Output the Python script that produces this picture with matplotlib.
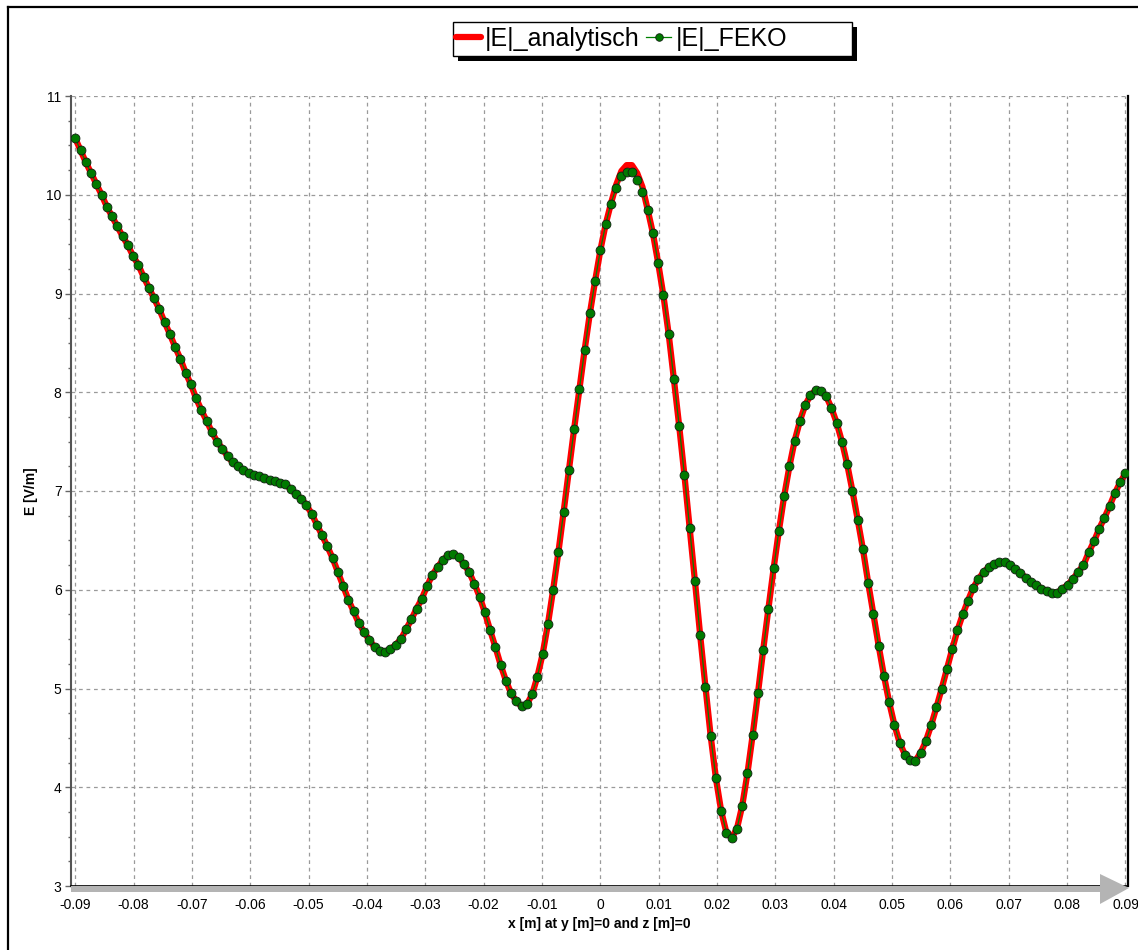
import matplotlib.pyplot as plt
import matplotlib.patches as mpatches
import matplotlib.transforms as mtransforms
from matplotlib.lines import Line2D
import numpy as np

plt.rcParams['font.family'] = ['Liberation Sans', 'DejaVu Sans']

W, H = 1138, 950

# sample positions along x (201 points from -0.09 to 0.09)
x_m = np.linspace(-0.09, 0.09, 201)

e_feko = [
    10.57, 10.45, 10.33, 10.22, 10.11, 10.00, 9.88, 9.78, 9.68, 9.58,
    9.49, 9.38, 9.29, 9.17, 9.06, 8.95, 8.84, 8.71, 8.59, 8.46,
    8.34, 8.20, 8.08, 7.94, 7.82, 7.71, 7.60, 7.50, 7.43, 7.35,
    7.29, 7.25, 7.21, 7.18, 7.16, 7.15, 7.13, 7.11, 7.10, 7.08,
    7.07, 7.02, 6.97, 6.92, 6.86, 6.77, 6.66, 6.55, 6.44, 6.32,
    6.18, 6.04, 5.90, 5.78, 5.66, 5.57, 5.49, 5.42, 5.38, 5.37,
    5.40, 5.44, 5.50, 5.60, 5.70, 5.81, 5.91, 6.04, 6.15, 6.23,
    6.30, 6.35, 6.36, 6.33, 6.26, 6.18, 6.06, 5.93, 5.77, 5.59,
    5.42, 5.24, 5.08, 4.95, 4.87, 4.82, 4.84, 4.94, 5.12, 5.35,
    5.65, 6.00, 6.38, 6.79, 7.21, 7.63, 8.03, 8.43, 8.80, 9.13,
    9.44, 9.70, 9.91, 10.07, 10.19, 10.23, 10.23, 10.15, 10.03, 9.85,
    9.61, 9.31, 8.98, 8.59, 8.13, 7.66, 7.16, 6.63, 6.09, 5.54,
    5.02, 4.52, 4.09, 3.76, 3.54, 3.49, 3.58, 3.81, 4.14, 4.53,
    4.95, 5.39, 5.81, 6.22, 6.60, 6.95, 7.25, 7.51, 7.71, 7.87,
    7.97, 8.02, 8.01, 7.96, 7.84, 7.69, 7.50, 7.27, 7.00, 6.71,
    6.41, 6.07, 5.75, 5.43, 5.13, 4.86, 4.63, 4.45, 4.33, 4.28,
    4.27, 4.35, 4.47, 4.63, 4.81, 5.00, 5.20, 5.40, 5.59, 5.75,
    5.89, 6.02, 6.11, 6.18, 6.23, 6.26, 6.28, 6.28, 6.25, 6.21,
    6.17, 6.12, 6.08, 6.05, 6.01, 5.99, 5.97, 5.97, 6.01, 6.05,
    6.11, 6.18, 6.25, 6.38, 6.49, 6.62, 6.73, 6.85, 6.98, 7.09,
    7.18,
]

# analytic curve sits on the FEKO points except around the main peak
e_analytisch = list(e_feko)
e_analytisch[103:109] = [10.10, 10.24, 10.30, 10.30, 10.22, 10.08]

x_ticks = [-0.09, -0.08, -0.07, -0.06, -0.05, -0.04, -0.03, -0.02, -0.01,
           0.0, 0.01, 0.02, 0.03, 0.04, 0.05, 0.06, 0.07, 0.08, 0.09]
x_tick_labels = ['-0.09', '-0.08', '-0.07', '-0.06', '-0.05', '-0.04', '-0.03',
                 '-0.02', '-0.01', '0', '0.01', '0.02', '0.03', '0.04', '0.05',
                 '0.06', '0.07', '0.08', '0.09']
y_ticks = [3, 4, 5, 6, 7, 8, 9, 10, 11]

fig = plt.figure(figsize=(W / 100, H / 100), dpi=100)
# image pixel coords (origin top-left) -> display
pix = mtransforms.Affine2D().scale(1, -1).translate(0, H)

ax = fig.add_axes([71 / W, 1 - 886 / H, (1128 - 71) / W, (886 - 96) / H])

ax.plot(x_m, e_analytisch, color='#ff0000', lw=4.5, solid_capstyle='round',
        label='|E|_analytisch', zorder=3)
ax.plot(x_m, e_feko, color='#008000', lw=0.9, marker='o', ms=6.4,
        mfc='#007a00', mec='#102010', mew=0.6, label='|E|_FEKO', zorder=4)

ax.set_xlim(-0.09 - 4.3 / 5834, 0.09 + 2.5 / 5834)
ax.set_ylim(3, 11)
ax.set_xticks(x_ticks)
ax.set_xticklabels(x_tick_labels)
ax.set_yticks(y_ticks)
ax.set_yticks(np.arange(3, 11.01, 0.25), minor=True)
ax.grid(True, which='major', linestyle=(0, (3, 3)), color='#9a9a9a', lw=0.9)

ax.tick_params(axis='y', which='major', length=4.3, width=1, color='#666666',
               labelsize=10, pad=2.5)
ax.tick_params(axis='y', which='minor', length=2.2, width=1, color='#666666')
ax.tick_params(axis='x', length=0, labelsize=10, pad=8.5)

ax.spines['top'].set_visible(False)
ax.spines['left'].set_color('#555555')
ax.spines['left'].set_linewidth(1.5)
ax.spines['bottom'].set_color('black')
ax.spines['bottom'].set_linewidth(1.2)
ax.spines['right'].set_color('black')
ax.spines['right'].set_linewidth(1.6)

ax.set_xlabel('x [m] at y [m]=0 and z [m]=0', fontsize=10, fontweight='bold')
ax.xaxis.set_label_coords(0.5, -0.039)
ax.set_ylabel('E [V/m]', fontsize=10, fontweight='bold')
ax.yaxis.set_label_coords(-0.031, 0.5)

# grey axis arrow under the x axis
arrow = mpatches.Polygon([(71, 886), (1100, 886), (1100, 874), (1129, 888),
                          (1100, 904), (1100, 892), (71, 892)],
                         closed=True, facecolor='#b4b4b4', edgecolor='none',
                         transform=pix, zorder=2.5)
fig.add_artist(arrow)

# outer frame (top and left edges)
fig.add_artist(Line2D([8, W], [7, 7], color='black', lw=1.6, transform=pix))
fig.add_artist(Line2D([8, 8], [7, H], color='black', lw=1.6, transform=pix))

# legend box with hard shadow
fig.add_artist(mpatches.Rectangle((458, 27), 399, 34, facecolor='black',
                                  edgecolor='none', transform=pix, zorder=5.4))
fig.add_artist(mpatches.Rectangle((453, 22), 399, 34, facecolor='white',
                                  edgecolor='black', lw=1.0, transform=pix,
                                  zorder=5.5))

leg = fig.legend(loc='center left', bbox_to_anchor=(453 / W, 1 - 39 / H),
                 ncol=2, frameon=False, fontsize=18, handlelength=1.0,
                 handletextpad=0.18, columnspacing=0.25, borderpad=0.1,
                 borderaxespad=0, markerscale=0.85)
leg.set_zorder(6)

fig.savefig('out.png', dpi=100)
